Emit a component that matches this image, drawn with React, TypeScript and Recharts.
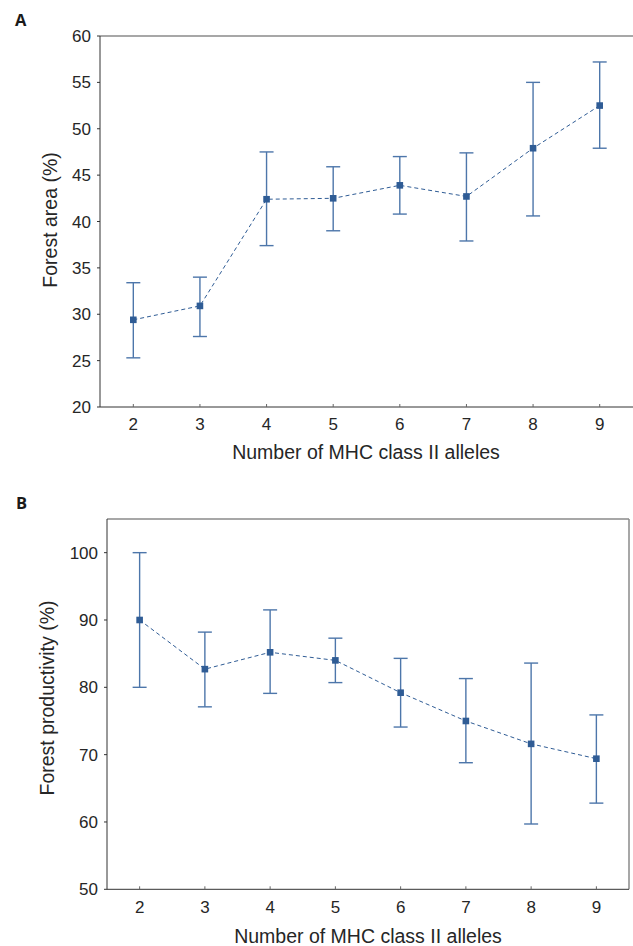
import React from "react";
import { LineChart, Line, XAxis, YAxis, ErrorBar, ReferenceLine, Label } from "recharts";

const alleles = [2, 3, 4, 5, 6, 7, 8, 9];

const areaMean = [29.4, 30.9, 42.4, 42.5, 43.9, 42.7, 47.9, 52.5];
const areaLow = [25.3, 27.6, 37.4, 39.0, 40.8, 37.9, 40.6, 47.9];
const areaHigh = [33.4, 34.0, 47.5, 45.9, 47.0, 47.4, 55.0, 57.2];
const areaTicks = [20, 25, 30, 35, 40, 45, 50, 55, 60];

const prodMean = [90.0, 82.7, 85.2, 84.0, 79.2, 75.0, 71.6, 69.4];
const prodLow = [80.0, 77.1, 79.1, 80.7, 74.1, 68.8, 59.7, 62.8];
const prodHigh = [100.0, 88.2, 91.5, 87.3, 84.3, 81.3, 83.6, 75.9];
const prodTicks = [50, 60, 70, 80, 90, 100];

const FONT = "'Liberation Sans', Arial, sans-serif";
const AXIS = "#333";
const FRAME = "#8a8a8a";
const BLUE = "#2f5c95";
const BAR = "#4d76aa";
const TEXT = "#262626";

const buildRows = (mean: number[], low: number[], high: number[]) =>
  alleles.map((a, i) => ({
    n: a,
    y: mean[i],
    err: [mean[i] - low[i], high[i] - mean[i]],
  }));

const areaRows = buildRows(areaMean, areaLow, areaHigh);
const prodRows = buildRows(prodMean, prodLow, prodHigh);

const Square = (p: any) => (
  <rect key={`sq-${p.index}`} x={p.cx - 3.3} y={p.cy - 3.3} width={6.6} height={6.6} fill={BLUE} />
);

// x ticks point inward (up from the axis line)
const makeXTick = (labelGap: number) => (p: any) => (
  <g>
    <line x1={p.x} x2={p.x} y1={p.y} y2={p.y - 3} stroke="#666" strokeWidth={1} />
    <text x={p.x} y={p.y + labelGap} textAnchor="middle" dominantBaseline="central" fontSize={17} fill={TEXT} fontFamily={FONT}>
      {p.payload.value}
    </text>
  </g>
);

const yTitle = (text: string, x: number, y: number) => () => (
  <text
    x={x}
    y={y}
    transform={`rotate(-90 ${x} ${y})`}
    textAnchor="middle"
    dominantBaseline="central"
    fontSize={19.5}
    fill={TEXT}
    fontFamily={FONT}
  >
    {text}
  </text>
);

const xTitle = (text: string, x: number, y: number) => () => (
  <text x={x} y={y} textAnchor="middle" dominantBaseline="central" fontSize={19.5} fill={TEXT} fontFamily={FONT}>
    {text}
  </text>
);

const panelStyle = {
  position: "absolute" as const,
  fontFamily: "'Open Sans', sans-serif",
  fontWeight: 700,
  fontSize: 16.5,
  lineHeight: 1,
  color: "#1a1a1a",
};

export default function App() {
  return (
    <div style={{ position: "absolute", left: 0, top: 0, width: 633, height: 946, background: "#fff" }}>
      <div style={{ ...panelStyle, left: 15, top: 12 }}>A</div>
      <div style={{ ...panelStyle, left: 16, top: 495 }}>B</div>

      <div style={{ position: "absolute", left: 0, top: 0 }}>
        <LineChart width={633} height={470} data={areaRows} margin={{ top: 36, right: 0, bottom: 0, left: 40 }}>
          <XAxis
            dataKey="n"
            type="number"
            domain={[1.5, 9.5]}
            ticks={alleles}
            height={63}
            tickSize={0}
            tickMargin={0}
            tick={makeXTick(17.5)}
            axisLine={{ stroke: AXIS, strokeWidth: 1 }}
          >
            <Label content={xTitle("Number of MHC class II alleles", 366, 452)} />
          </XAxis>
          <YAxis
            type="number"
            domain={[20, 60]}
            ticks={areaTicks}
            width={60}
            tickSize={3}
            tickMargin={6}
            tickLine={{ stroke: AXIS }}
            axisLine={{ stroke: AXIS, strokeWidth: 1 }}
            tick={{ fontSize: 17, fill: TEXT, fontFamily: FONT }}
          >
            <Label content={yTitle("Forest area (%)", 50, 220)} />
          </YAxis>
          <ReferenceLine y={60} stroke={FRAME} strokeWidth={1.5} />
          <Line
            dataKey="y"
            stroke={BLUE}
            strokeWidth={1}
            strokeDasharray="4 3"
            dot={Square}
            activeDot={false}
            isAnimationActive={false}
          >
            <ErrorBar dataKey="err" width={7} stroke={BAR} strokeWidth={1.4} direction="y" />
          </Line>
        </LineChart>
      </div>

      <div style={{ position: "absolute", left: 0, top: 470 }}>
        <LineChart width={633} height={476} data={prodRows} margin={{ top: 49, right: 4, bottom: 0, left: 47 }}>
          <XAxis
            dataKey="n"
            type="number"
            domain={[1.5, 9.5]}
            ticks={alleles}
            height={56.7}
            tickSize={0}
            tickMargin={0}
            tick={makeXTick(17.7)}
            axisLine={{ stroke: AXIS, strokeWidth: 1 }}
          >
            <Label content={xTitle("Number of MHC class II alleles", 368, 466)} />
          </XAxis>
          <YAxis
            type="number"
            domain={[50, 105]}
            ticks={prodTicks}
            width={60}
            tickSize={3}
            tickMargin={6}
            tickLine={{ stroke: AXIS }}
            axisLine={{ stroke: AXIS, strokeWidth: 1 }}
            tick={{ fontSize: 17, fill: TEXT, fontFamily: FONT }}
          >
            <Label content={yTitle("Forest productivity (%)", 46.5, 228)} />
          </YAxis>
          <ReferenceLine y={105} stroke={FRAME} strokeWidth={1.5} />
          <ReferenceLine x={9.5} stroke={FRAME} strokeWidth={1.5} />
          <Line
            dataKey="y"
            stroke={BLUE}
            strokeWidth={1}
            strokeDasharray="4 3"
            dot={Square}
            activeDot={false}
            isAnimationActive={false}
          >
            <ErrorBar dataKey="err" width={7} stroke={BAR} strokeWidth={1.4} direction="y" />
          </Line>
        </LineChart>
      </div>
    </div>
  );
}
